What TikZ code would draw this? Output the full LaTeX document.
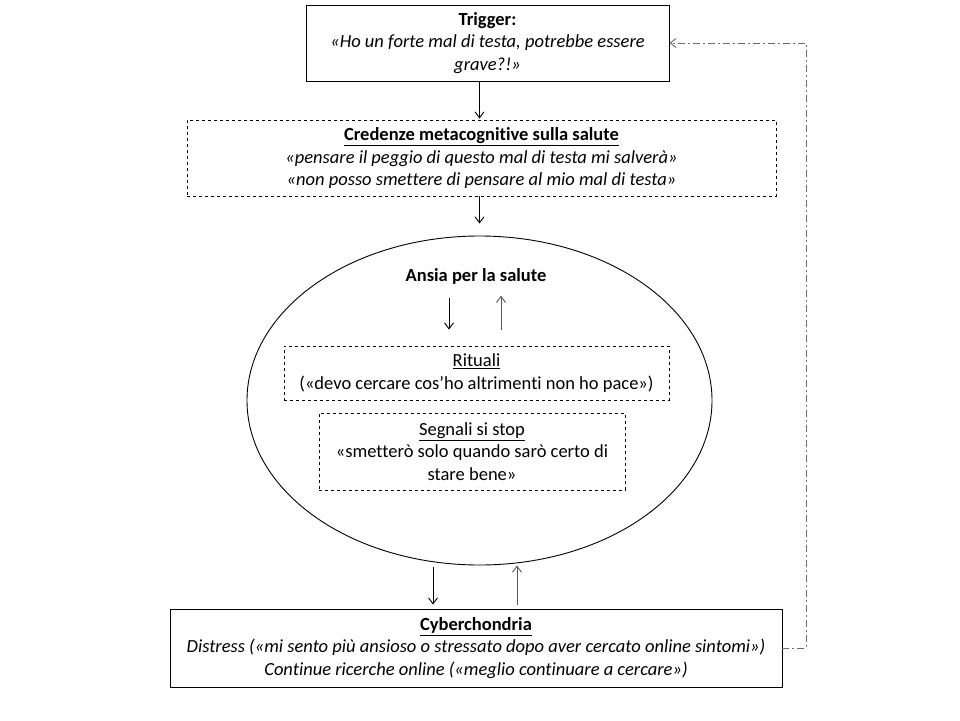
\documentclass[tikz,border=0pt]{standalone}
\usepackage{fontspec}
\setmainfont{Carlito}[Ligatures={NoCommon}]
\usepackage{tikz}
\usetikzlibrary{shapes.geometric, arrows.meta}

\begin{document}
\begin{tikzpicture}[x=1pt, y=-1pt,
  font=\fontsize{18.5}{22.5}\selectfont,
  line width=0.9pt,
  solidbox/.style={draw, align=center, inner sep=0pt},
  dashbox/.style={draw, dashed, align=center, inner sep=0pt},
  arr/.style={-{Straight Barb[length=6pt, width=9pt]}},
  feedback/.style={dash pattern=on 7pt off 3pt on 2pt off 3pt, gray!85!black}]

\useasboundingbox (0,0) rectangle (960,720);

% Nodes
\node (trigger) [solidbox, minimum width=363pt, minimum height=76pt] at (487.5,43)
  {\textbf{Trigger:}\\ \textit{«Ho un forte mal di testa, potrebbe essere}\\ \textit{grave?!»}};
\node (cred) [dashbox, minimum width=589pt, minimum height=76pt] at (481.5,158)
  {\underline{\textbf{Credenze metacognitive sulla salute}}\\
   \textit{«pensare il peggio di questo mal di testa mi salverà»}\\
   \textit{«non posso smettere di pensare al mio mal di testa»}};
\node (ell) [draw, ellipse, minimum width=465pt, minimum height=329pt] at (479.5,400.5) {};
\node (ansia) at (476,276) {\textbf{Ansia per la salute}};
\node (rit) [dashbox, minimum width=385pt, minimum height=54pt] at (476.5,373)
  {\underline{Rituali}\\ («devo cercare cos’ho altrimenti non ho pace»)};
\node (seg) [dashbox, minimum width=306pt, minimum height=77pt] at (472,451.5)
  {\underline{Segnali si stop}\\ «smetterò solo quando sarò certo di\\ stare bene»};
\node (cyber) [solidbox, minimum width=612pt, minimum height=78pt] at (476,648)
  {\underline{\textbf{Cyberchondria}}\\
   \textit{Distress («mi sento più ansioso o stressato dopo aver cercato online sintomi»)}\\
   \textit{Continue ricerche online («meglio continuare a cercare»)}};
\coordinate (fb) at (806,43);

% Arrows
\draw[arr] (trigger.south -| ell.north) -- ([yshift=1pt]cred.north -| ell.north);
\draw[arr] (cred.south -| ell.north) -- ([yshift=12pt]ell.north);
\draw[arr] ([xshift=-27pt,yshift=-10pt]ansia.south) -- ([xshift=-27pt,yshift=16pt]rit.north -| ansia.south);
\draw[arr, gray!70!black] ([xshift=25pt,yshift=16pt]rit.north -| ansia.south) -- ([xshift=25pt,yshift=-8pt]ansia.south);
\draw[arr] ([xshift=-46.5pt,yshift=-2pt]ell.south) -- ([xshift=-46.5pt,yshift=4pt]cyber.north -| ell.south);
\draw[arr, gray!70!black] ([xshift=37.5pt,yshift=4pt]cyber.north -| ell.south) -- ([xshift=37.5pt]ell.south);
\draw[arr, feedback] (cyber.east) -| (fb) -- (trigger.east);

\end{tikzpicture}
\end{document}
